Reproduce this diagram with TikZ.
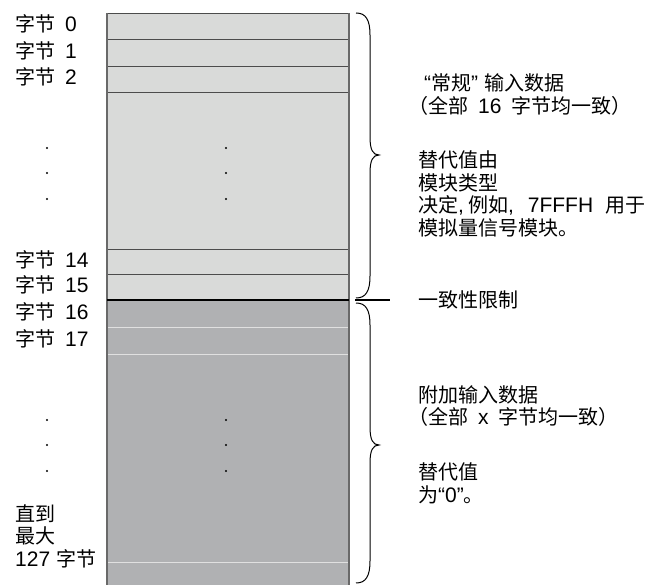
\documentclass[tikz,border=0pt]{standalone}
\usepackage{fontspec}
\setmainfont{Noto Sans CJK SC}
\newfontfamily\arialfont[Scale=1.05]{Liberation Sans}
\usepackage{xcolor}
\usepackage{tikz}
\usetikzlibrary{positioning}

\definecolor{lightcell}{RGB}{217,218,217}
\definecolor{darkcell}{RGB}{176,177,179}
\definecolor{framegray}{RGB}{105,105,105}
\newcommand{\latn}[1]{{\arialfont #1}}
\newcommand{\sgap}{\hspace{10pt}}

\begin{document}
\begin{tikzpicture}[
    x=1pt, y=-1pt,
    font=\fontsize{20}{22.5}\selectfont,
    cell/.style={rectangle, minimum width=242pt, inner sep=0pt, outer sep=0pt},
    lcell/.style={cell, draw=black!70, line width=0.8pt, fill=lightcell},
    dcell/.style={cell, fill=darkcell},
    lbl/.style={anchor=west, inner sep=0pt, align=left},
    sep/.style={white!88!black, line width=0.9pt},
    frame/.style={framegray, line width=1.6pt},
    limit/.style={black, line width=1.8pt},
    brc/.style={black, line width=1pt}
]
\useasboundingbox (0,0) rectangle (646,585);

% bytes 0..15, "regular" input data
\node[lcell, minimum height=26pt, anchor=north] (b0) at (228,13) {};
\node[lcell, minimum height=27pt, below=0pt of b0] (b1) {};
\node[lcell, minimum height=26pt, below=0pt of b1] (b2) {};
\node[lcell, minimum height=157pt, below=0pt of b2] (bdots) {};
\node[lcell, minimum height=25pt, below=0pt of bdots] (b14) {};
\node[lcell, minimum height=26pt, below=0pt of b14] (b15) {};

% bytes 16..127, additional input data
\node[dcell, minimum height=27pt, below=0pt of b15] (b16) {};
\node[dcell, minimum height=27pt, below=0pt of b16] (b17) {};
\node[dcell, minimum height=208pt, below=0pt of b17] (bmore) {};
\node[dcell, minimum height=30pt, below=0pt of bmore] (bend) {};

\draw[sep] (b17.north west) -- (b17.north east);
\draw[sep] (bmore.north west) -- (bmore.north east);
\draw[sep] (bend.north west) -- (bend.north east);
\draw[frame] (b0.north west) -- (bend.south west);
\draw[frame] (b0.north east) -- (bend.south east);
\draw[limit] (b15.south west) -- (b15.south east);

% dots
\foreach \y in {148,173,199,420,445,471}{
  \fill (47,\y) circle (1.1pt);
  \fill (226,\y) circle (1.1pt);
}

% byte labels
\node[lbl] (l0) at (15,24) {字节\sgap \latn{0}};
\node[lbl] (l1) at (15,51) {字节\sgap \latn{1}};
\node[lbl] (l2) at (15,77) {字节\sgap \latn{2}};
\node[lbl] (l14) at (15,260) {字节\sgap \latn{14}};
\node[lbl] (l15) at (15,285) {字节\sgap \latn{15}};
\node[lbl] (l16) at (15,312) {字节\sgap \latn{16}};
\node[lbl] (l17) at (15,339) {字节\sgap \latn{17}};
\node[lbl] (lmax) at (15,536) {直到\\最大\\\latn{127}\hspace{6pt}字节};

% braces
\draw[brc] (356,13) .. controls (366,13) and (370,20) .. (370,35) -- (370,137)
  .. controls (370,150) and (373,155) .. (379,155)
  .. controls (373,155) and (370,160) .. (370,173) -- (370,276)
  .. controls (370,291) and (366,298) .. (356,298);
\draw[brc] (356,303) .. controls (366,303) and (370,310) .. (370,325) -- (370,427)
  .. controls (370,440) and (373,445) .. (379,445)
  .. controls (373,445) and (370,450) .. (370,463) -- (370,561)
  .. controls (370,576) and (366,583) .. (356,583);

% descriptions
\node[lbl] (regular) at (408,94.5) {\hspace*{16pt}\latn{“}常规\latn{”}\hspace{6pt}输入数据\\（全部\sgap \latn{16}\sgap 字节均一致）};
\node[lbl] (subst1) at (418,194) {替代值由\\模块类型\\决定\latn{,}\hspace{4pt}例如\latn{,}\hspace{14pt}\latn{7FFFH}\hspace{12pt}用于\\模拟量信号模块。};
\node[lbl] (lim) at (418,300) {一致性限制};
\node[lbl] (extra) at (408,406) {\hspace*{10pt}附加输入数据\\（全部\sgap \latn{x}\sgap 字节均一致）};
\node[lbl] (subst2) at (418,483.5) {替代值\\为\latn{“0”}。};

\draw[limit] ([xshift=6pt]b15.south east) -- ([xshift=-28pt]lim.west);

\end{tikzpicture}
\end{document}
